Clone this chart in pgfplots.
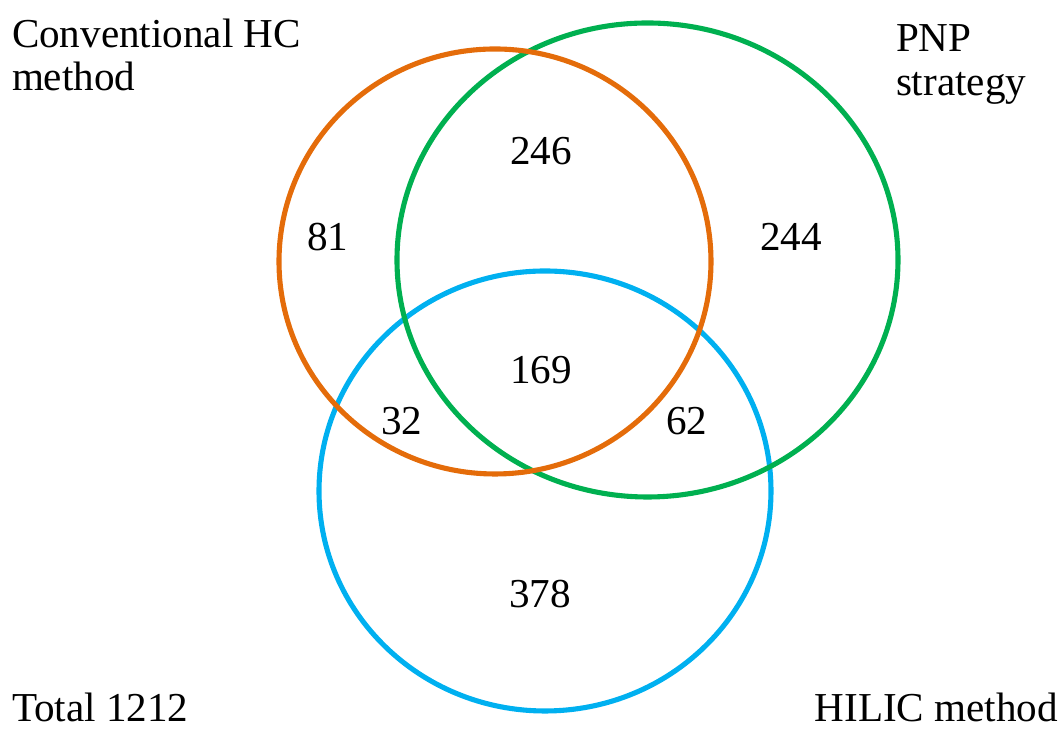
\documentclass[border=0pt]{standalone}
\usepackage{pgfplots}
\pgfplotsset{compat=1.18}
\usepackage{fontspec}
\setmainfont{Liberation Serif}
\definecolor{cOrange}{RGB}{228,108,10}
\definecolor{cGreen}{RGB}{0,176,80}
\definecolor{cBlue}{RGB}{0,176,240}
\tikzset{lbl/.style={font=\fontsize{11.7}{12.3}\selectfont, inner sep=0pt, outer sep=0pt}}
\begin{document}
\begin{tikzpicture}
\begin{axis}[
  width=106.4mm, height=73.1mm, scale only axis,
  xmin=0, xmax=1064, ymin=0, ymax=731, y dir=reverse,
  hide axis, clip=false,
]
% sets (centre x, centre y, radius x, radius y) in picture units
\draw[cBlue, line width=1.45pt] (axis cs:545,491) ellipse [x radius=226, y radius=220];
\draw[cGreen, line width=1.45pt] (axis cs:647.5,260) ellipse [x radius=250.5, y radius=237];
\draw[cOrange, line width=1.45pt] (axis cs:495,261.5) ellipse [x radius=216, y radius=212.5];
% region counts
\node[lbl, anchor=base] at (axis cs:541,165) {246};
\node[lbl, anchor=base] at (axis cs:328,251) {81};
\node[lbl, anchor=base] at (axis cs:791,251) {244};
\node[lbl, anchor=base] at (axis cs:541,384) {169};
\node[lbl, anchor=base] at (axis cs:402,435) {32};
\node[lbl, anchor=base] at (axis cs:687,435) {62};
\node[lbl, anchor=base] at (axis cs:540,608) {378};
% set labels
\node[lbl, anchor=base west] at (axis cs:12,48) {Conventional HC};
\node[lbl, anchor=base west] at (axis cs:12,91) {method};
\node[lbl, anchor=base west] at (axis cs:896,52) {PNP};
\node[lbl, anchor=base west] at (axis cs:896,96) {strategy};
\node[lbl, anchor=base west] at (axis cs:12,722) {Total 1212};
\node[lbl, anchor=base east] at (axis cs:1058,722) {HILIC method};
\end{axis}
\pgfresetboundingbox
\path (current axis.south west) rectangle (current axis.north east);
\end{tikzpicture}
\end{document}
